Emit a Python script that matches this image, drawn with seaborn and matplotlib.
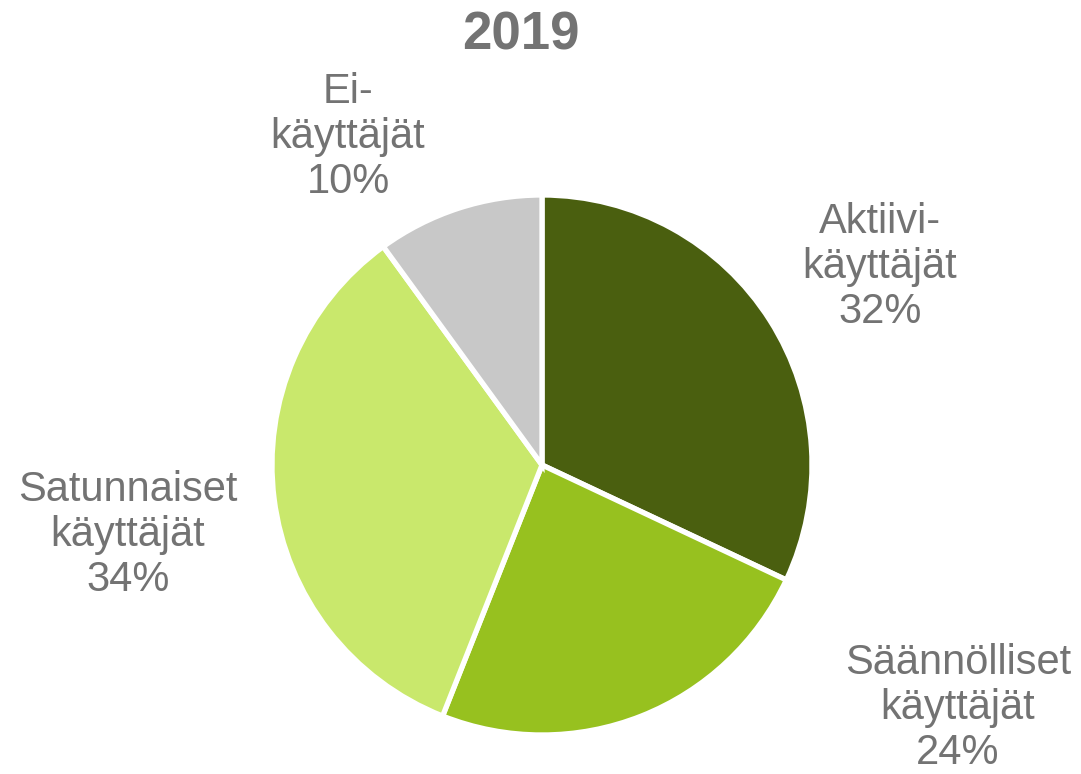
import matplotlib
matplotlib.use("Agg")
import matplotlib.pyplot as plt
import seaborn as sns

categories = ["Aktiivi-\nkäyttäjät", "Säännölliset\nkäyttäjät", "Satunnaiset\nkäyttäjät", "Ei-\nkäyttäjät"]
values = [32, 24, 34, 10]
colors = ["#4a5f0f", "#97c11f", "#c9e86c", "#c8c8c8"]
title = "2019"

sns.set_theme(style="white")
plt.rcParams['font.family'] = ['Liberation Sans', 'DejaVu Sans']

W, H = 1081, 774
fig = plt.figure(figsize=(W / 100, H / 100), dpi=100)
cx, cy, r = 542, 465, 270
ax = fig.add_axes([(cx - r) / W, (H - cy - r) / H, 2 * r / W, 2 * r / H])
ax.pie(values, colors=colors, startangle=90, counterclock=False, radius=1,
       wedgeprops=dict(edgecolor="white", linewidth=3.8))
ax.set_xlim(-1, 1)
ax.set_ylim(-1, 1)
ax.set_aspect("equal")
ax.axis("off")

# label centres in pixel coordinates (layout only)
label_px = [(880, 267), (958, 708), (128, 535), (348, 137)]
txtcol = "#737373"
for cat, v, (px, py) in zip(categories, values, label_px):
    ax.text((px - cx) / r, (cy - py) / r, f"{cat}\n{v}%", ha="center", va="center",
            fontsize=30, color=txtcol, linespacing=1.17, clip_on=False)

fig.text(521 / W, 1 - 35 / H, title, ha="center", va="center", fontsize=38,
         fontweight="bold", color=txtcol)

fig.savefig("out.png", dpi=100, facecolor="white")
